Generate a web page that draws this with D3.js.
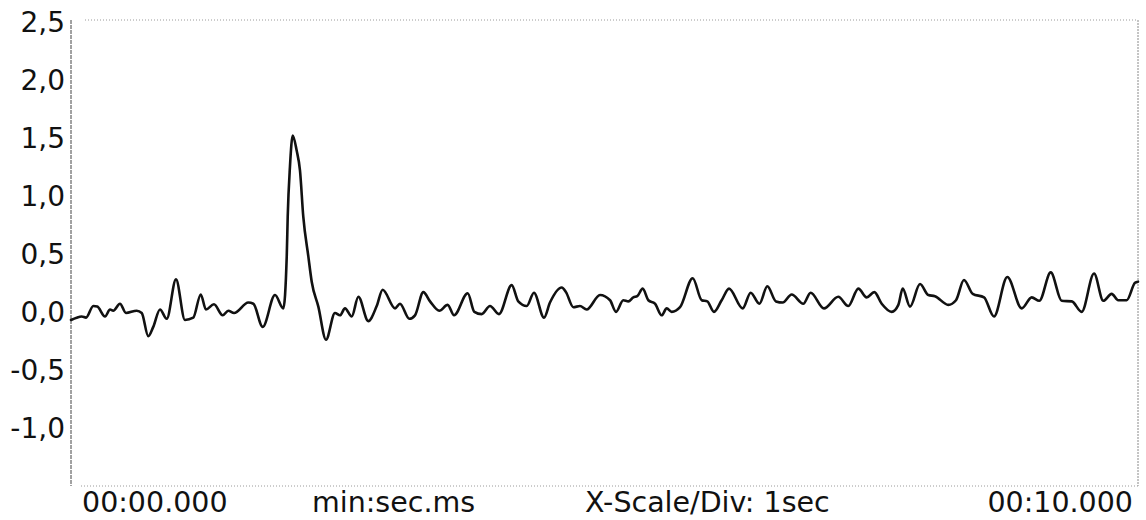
<!DOCTYPE html>
<html>
<head>
<meta charset="utf-8">
<script src="https://cdn.jsdelivr.net/npm/d3@7"></script>
<style>
  html, body { margin: 0; padding: 0; background: #fff; }
  svg { display: block; }
  text { font-family: "DejaVu Sans", Verdana, sans-serif; fill: #111; }
</style>
</head>
<body>
<svg id="chart" width="1146" height="520"></svg>
<script>
// Recorded signal: time in seconds, amplitude
const times = [
  0.000, 0.053, 0.100, 0.141, 0.209, 0.246, 0.319, 0.366, 0.396, 0.459,
  0.515, 0.616, 0.663, 0.724, 0.771, 0.834, 0.897, 0.984, 1.068, 1.146,
  1.216, 1.265, 1.340, 1.422, 1.474, 1.528, 1.662, 1.709, 1.797, 1.912,
  1.990, 2.022, 2.031, 2.052, 2.078, 2.115, 2.146, 2.177, 2.224, 2.256,
  2.318, 2.390, 2.474, 2.521, 2.568, 2.631, 2.693, 2.786, 2.865, 2.921,
  3.037, 3.083, 3.171, 3.224, 3.302, 3.365, 3.452, 3.530, 3.590, 3.718,
  3.780, 3.849, 3.927, 4.011, 4.130, 4.192, 4.271, 4.339, 4.433, 4.489,
  4.599, 4.639, 4.708, 4.770, 4.833, 4.958, 5.052, 5.108, 5.176, 5.223,
  5.270, 5.307, 5.358, 5.411, 5.473, 5.536, 5.583, 5.630, 5.708, 5.827,
  5.911, 5.963, 6.026, 6.098, 6.167, 6.295, 6.370, 6.451, 6.526, 6.607,
  6.670, 6.754, 6.863, 6.932, 7.057, 7.191, 7.285, 7.379, 7.457, 7.529,
  7.598, 7.692, 7.754, 7.795, 7.863, 7.957, 8.035, 8.097, 8.222, 8.294,
  8.369, 8.451, 8.557, 8.650, 8.775, 8.910, 9.004, 9.075, 9.182, 9.285,
  9.379, 9.472, 9.588, 9.675, 9.753, 9.815, 9.894, 9.972, 10.000
];
const values = [
  -0.06, -0.04, -0.03, -0.04, 0.06, 0.055, -0.03, 0.03, 0.02, 0.08,
  0.00, 0.02, 0.00, -0.20, -0.12, 0.03, -0.05, 0.29, -0.06, -0.04,
  0.16, 0.03, 0.075, -0.02, 0.02, 0.00, 0.09, 0.08, -0.12, 0.155,
  0.04, 0.49, 0.83, 1.26, 1.53, 1.40, 1.23, 0.83, 0.49, 0.27,
  0.055, -0.23, 0.00, -0.02, 0.04, -0.03, 0.14, -0.07, 0.06, 0.20,
  0.04, 0.08, -0.05, -0.02, 0.18, 0.10, 0.02, 0.07, -0.02, 0.17,
  0.01, -0.01, 0.06, -0.01, 0.24, 0.10, 0.06, 0.175, -0.04, 0.09,
  0.22, 0.18, 0.05, 0.06, 0.03, 0.155, 0.11, 0.01, 0.11, 0.10,
  0.135, 0.145, 0.21, 0.11, 0.08, -0.02, 0.04, 0.01, 0.05, 0.30,
  0.11, 0.10, 0.01, 0.11, 0.21, 0.04, 0.175, 0.08, 0.23, 0.10,
  0.09, 0.16, 0.08, 0.175, 0.04, 0.14, 0.06, 0.21, 0.135, 0.18,
  0.08, 0.01, 0.07, 0.21, 0.055, 0.25, 0.155, 0.145, 0.07, 0.11,
  0.285, 0.165, 0.135, -0.03, 0.31, 0.04, 0.135, 0.105, 0.35, 0.105,
  0.10, 0.01, 0.34, 0.105, 0.165, 0.11, 0.11, 0.26, 0.27
];

const yTicks = [2.5, 2.0, 1.5, 1.0, 0.5, 0.0, -0.5, -1.0];
const timeStartLabel = "00:00.000";
const timeEndLabel = "00:10.000";
const unitLabel = "min:sec.ms";
const scaleLabel = "X-Scale/Div: 1sec";

const svg = d3.select("#chart");
const frameLeft = 71, frameRight = 1138, frameTop = 20, frameBottom = 486;

const x = d3.scaleLinear().domain([0, 10]).range([frameLeft, frameRight]);
const y = d3.scaleLinear().domain([-1.5, 2.5]).range([487, 23]);

// Frame: dotted top / right / bottom, darker left axis
svg.append("line")
  .attr("x1", frameLeft + 14).attr("x2", frameRight).attr("y1", frameTop).attr("y2", frameTop)
  .attr("stroke", "#9a9a9a").attr("stroke-width", 1).attr("stroke-dasharray", "1 2");
svg.append("line")
  .attr("x1", frameRight).attr("x2", frameRight).attr("y1", frameTop).attr("y2", frameBottom)
  .attr("stroke", "#8a8a8a").attr("stroke-width", 1).attr("stroke-dasharray", "2 1");
svg.append("line")
  .attr("x1", frameLeft + 10).attr("x2", frameRight).attr("y1", frameBottom).attr("y2", frameBottom)
  .attr("stroke", "#9a9a9a").attr("stroke-width", 1).attr("stroke-dasharray", "1 2");
svg.append("line")
  .attr("x1", frameLeft).attr("x2", frameLeft).attr("y1", frameTop).attr("y2", frameBottom)
  .attr("stroke", "#444").attr("stroke-width", 1).attr("stroke-dasharray", "4 1");

// Amplitude axis labels
const fmt = v => d3.format(".1f")(v).replace(".", ",").replace("−", "-");
const yAxis = d3.axisLeft(y).tickValues(yTicks).tickSize(0).tickPadding(6).tickFormat(fmt);
const gy = svg.append("g").attr("transform", `translate(${frameLeft},0)`).call(yAxis);
gy.select(".domain").remove();
gy.selectAll("text")
  .style("font-family", '"DejaVu Sans", Verdana, sans-serif')
  .style("font-size", "28px")
  .attr("fill", "#111");

// Time labels under the frame
const baseY = 512;
svg.append("text").attr("x", x(0) + 11).attr("y", baseY)
  .attr("text-anchor", "start").style("font-size", "28.5px").text(timeStartLabel);
svg.append("text").attr("x", 312).attr("y", baseY)
  .attr("text-anchor", "start").style("font-size", "28.5px").text(unitLabel);
svg.append("text").attr("x", 585).attr("y", baseY)
  .attr("text-anchor", "start").style("font-size", "28.5px").text(scaleLabel);
svg.append("text").attr("x", x(10) - 5).attr("y", baseY)
  .attr("text-anchor", "end").style("font-size", "28.5px").text(timeEndLabel);

// Signal trace
const data = times.map((t, i) => ({ t, v: values[i] }));
const line = d3.line()
  .x(d => x(d.t))
  .y(d => y(d.v))
  .curve(d3.curveMonotoneX);

svg.append("path")
  .datum(data)
  .attr("d", line)
  .attr("fill", "none")
  .attr("stroke", "#111")
  .attr("stroke-width", 2.6)
  .attr("stroke-linejoin", "round")
  .attr("stroke-linecap", "round");
</script>
</body>
</html>
